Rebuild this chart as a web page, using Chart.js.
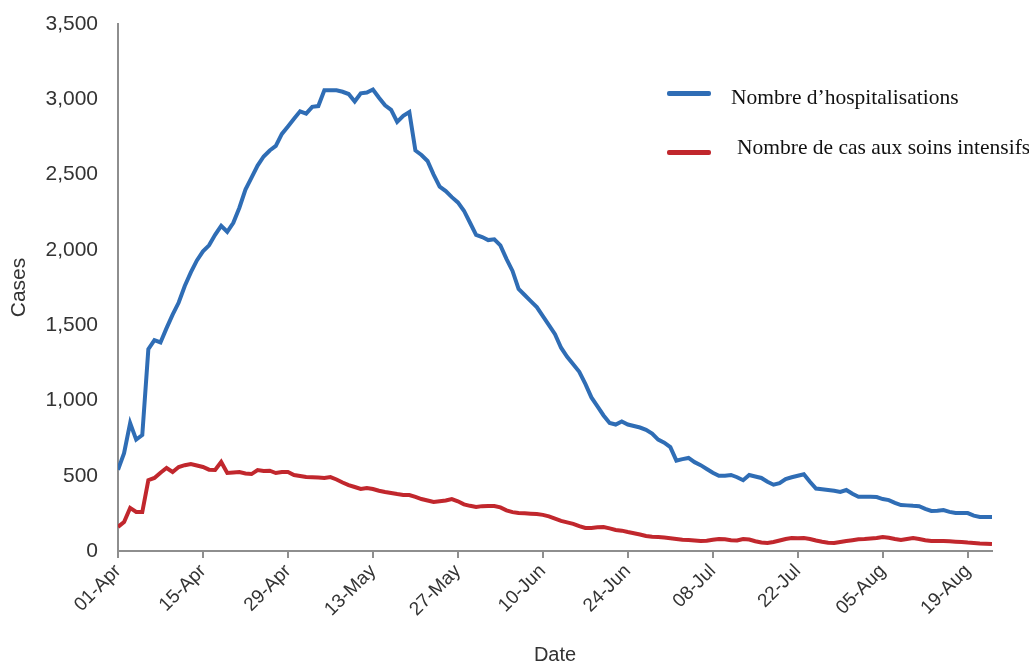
<!DOCTYPE html>
<html>
<head>
<meta charset="utf-8">
<script src="https://cdn.jsdelivr.net/npm/chart.js@4.4.0/dist/chart.umd.min.js"></script>
<style>
    html, body { margin: 0; padding: 0; background: #fff; }
    #wrap { position: relative; width: 1029px; height: 667px; }
    #legend { position: absolute; left: 0; top: 0; font-family: "Liberation Serif", "Times New Roman", serif; font-size: 21.5px; color: #111; }
    .item { position: absolute; white-space: nowrap; }
    .swatch { position: absolute; width: 44px; height: 5px; border-radius: 2px; }
</style>
</head>
<body>
<div id="wrap">
    <canvas id="chart" width="1029" height="667"></canvas>
    <div id="legend"></div>
</div>
<script>
// tick labels every 14 days from 01-Apr (day 0)
const tickLabels = ['01-Apr', '15-Apr', '29-Apr', '13-May', '27-May', '10-Jun', '24-Jun', '08-Jul', '22-Jul', '05-Aug', '19-Aug'];

const seriesNames = ['Nombre d\u2019hospitalisations', 'Nombre de cas aux soins intensifs'];
const seriesColors = ['#2f6db5', '#c1272d'];

// daily values, day 0 = 01-Apr, last day = 23-Aug
const hospitalisations = [
    540, 650, 850, 740, 770, 1340, 1400, 1385, 1480, 1570,
    1650, 1760, 1850, 1930, 1990, 2030, 2100, 2160, 2120, 2180,
    2280, 2400, 2480, 2560, 2620, 2660, 2690, 2770, 2820, 2870,
    2920, 2905, 2950, 2955, 3060, 3060, 3060, 3050, 3035, 2985,
    3040, 3045, 3065, 3010, 2960, 2930, 2850, 2890, 2915, 2660,
    2630, 2590, 2500, 2420, 2390, 2350, 2315, 2260, 2180, 2100,
    2085, 2065, 2070, 2030, 1940, 1860, 1740, 1700, 1660, 1620,
    1560, 1500, 1440, 1350, 1290, 1240, 1190, 1110, 1020, 960,
    900, 850, 840, 860, 840, 830, 820, 805, 780, 740,
    720, 690, 600, 610, 618, 590, 570, 545, 520, 500,
    500, 505, 490, 470, 505, 495, 485, 460, 440, 450,
    478, 490, 500, 510, 460, 415, 410, 405, 400, 392,
    405, 380, 360, 360, 360, 358, 345, 338, 320, 305,
    303, 300, 298, 280, 266, 268, 272, 260, 252, 252,
    252, 235, 226, 226, 226
];

const soinsIntensifs = [
    160, 193, 286, 259, 259, 470, 485, 520, 551, 525,
    558, 570, 578, 568, 558, 540, 538, 591, 518, 522,
    525, 515, 511, 538, 531, 533, 518, 525, 525, 505,
    498, 491, 490, 488, 485, 491, 475, 455, 438, 425,
    412, 418, 412, 400, 392, 385, 378, 372, 372, 360,
    345, 335, 325, 330, 335, 345, 330, 310, 300, 292,
    298, 299, 299, 290, 270, 258, 252, 250, 248, 245,
    240, 230, 215, 200, 190, 180, 165, 153, 153, 158,
    159, 150, 140, 135, 126, 118, 110, 100, 95, 93,
    90, 85, 80, 75, 73, 70, 66, 68, 75, 80,
    78, 72, 70, 80, 76, 65, 56, 53, 60, 70,
    80, 86, 84, 86, 80, 70, 62, 55, 53, 60,
    66, 72, 78, 80, 83, 86, 93, 88, 80, 73,
    80, 86, 80, 72, 66, 66, 66, 64, 62, 60,
    56, 53, 50, 48, 46
];

const axisGrey = '#8e8e8e';
const textGrey = '#333333';

function toPoints(values) {
    return values.map((v, i) => ({ x: i, y: v }));
}

function buildLegend() {
    const legend = document.getElementById('legend');
    const spots = [
        { lineTop: 91, textLeft: 731, textTop: 85 },
        { lineTop: 150, textLeft: 737, textTop: 135 }
    ];
    seriesNames.forEach((name, i) => {
        const sw = document.createElement('div');
        sw.className = 'swatch';
        sw.style.left = '667px';
        sw.style.top = spots[i].lineTop + 'px';
        sw.style.background = seriesColors[i];
        legend.appendChild(sw);

        const txt = document.createElement('div');
        txt.className = 'item';
        txt.style.left = spots[i].textLeft + 'px';
        txt.style.top = spots[i].textTop + 'px';
        txt.textContent = name;
        legend.appendChild(txt);
    });
}

const ctx = document.getElementById('chart');
new Chart(ctx, {
    type: 'line',
    data: {
        datasets: [
            {
                label: seriesNames[0],
                data: toPoints(hospitalisations),
                borderColor: seriesColors[0],
                borderWidth: 4,
                pointRadius: 0,
                tension: 0
            },
            {
                label: seriesNames[1],
                data: toPoints(soinsIntensifs),
                borderColor: seriesColors[1],
                borderWidth: 4,
                pointRadius: 0,
                tension: 0
            }
        ]
    },
    options: {
        responsive: false,
        animation: false,
        layout: { padding: { top: 24, right: 37, bottom: 0, left: 0 } },
        plugins: {
            legend: { display: false },
            tooltip: { enabled: false }
        },
        scales: {
            x: {
                type: 'linear',
                min: 0,
                max: hospitalisations.length - 1,
                afterFit: s => { s.height = 116; },
                border: { color: axisGrey, width: 2 },
                grid: { drawOnChartArea: false, color: axisGrey, lineWidth: 2, tickLength: 7 },
                ticks: {
                    stepSize: 14,
                    includeBounds: false,
                    autoSkip: false,
                    maxRotation: 45,
                    minRotation: 45,
                    padding: 2,
                    color: textGrey,
                    font: { family: 'Liberation Sans, Arial, sans-serif', size: 19 },
                    callback: v => tickLabels[Math.round(v / 14)] || ''
                },
                title: {
                    display: true,
                    text: 'Date',
                    color: textGrey,
                    font: { family: 'Liberation Sans, Arial, sans-serif', size: 20 },
                    padding: { top: 0, bottom: 0 }
                }
            },
            y: {
                min: 0,
                max: 3500,
                afterFit: s => { s.width = 118; s.paddingTop = 0; },
                border: { color: axisGrey, width: 2 },
                grid: { display: false, drawTicks: false },
                ticks: {
                    stepSize: 500,
                    padding: 20,
                    color: textGrey,
                    font: { family: 'Liberation Sans, Arial, sans-serif', size: 21 },
                    callback: v => v.toLocaleString('en-US')
                },
                title: {
                    display: true,
                    text: 'Cases',
                    color: textGrey,
                    font: { family: 'Liberation Sans, Arial, sans-serif', size: 21 },
                    padding: { top: 7, bottom: 0 }
                }
            }
        }
    }
});

buildLegend();
</script>
</body>
</html>
